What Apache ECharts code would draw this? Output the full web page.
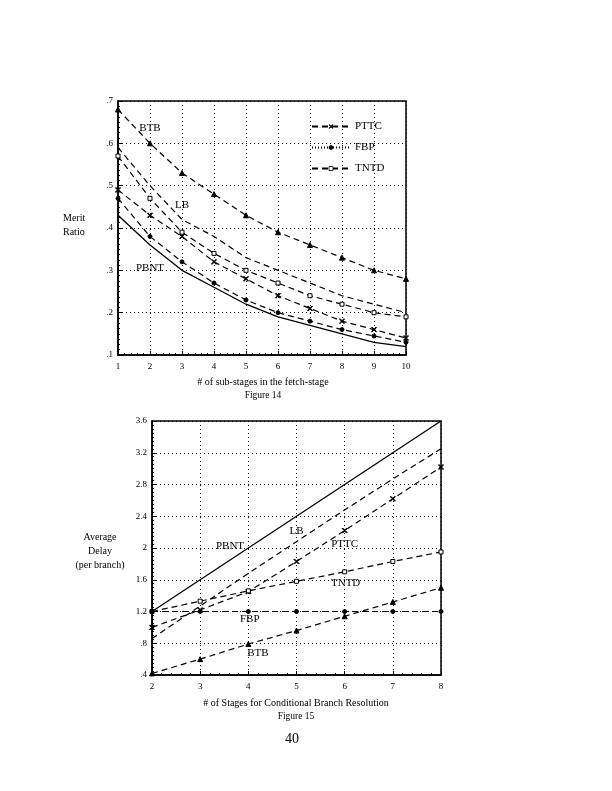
<!DOCTYPE html>
<html><head><meta charset="utf-8">
<script src="https://cdn.jsdelivr.net/npm/echarts@6/dist/echarts.min.js"></script>
<style>html,body{margin:0;background:#fff}#c{width:612px;height:791px}</style></head>
<body><div id="c"></div>
<script>
// ---- Figure 14 data ----
const x14 = [1,2,3,4,5,6,7,8,9,10];
const btb14  = [0.68,0.60,0.53,0.48,0.43,0.39,0.36,0.33,0.30,0.28];
const lb14   = [0.59,0.50,0.42,0.38,0.33,0.30,0.27,0.24,0.22,0.20];
const tntd14 = [0.57,0.47,0.39,0.34,0.30,0.27,0.24,0.22,0.20,0.19];
const pttc14 = [0.49,0.43,0.38,0.32,0.28,0.24,0.21,0.18,0.16,0.14];
const fbp14  = [0.47,0.38,0.32,0.27,0.23,0.20,0.18,0.16,0.145,0.13];
const pbnt14 = [0.43,0.36,0.30,0.26,0.22,0.19,0.17,0.15,0.13,0.12];
const yTicks14 = ['.1','.2','.3','.4','.5','.6','.7'];
// ---- Figure 15 data ----
const x15 = [2,3,4,5,6,7,8];
const pbnt15 = [1.2,1.6,2.0,2.4,2.8,3.2,3.6];
const lb15   = [0.86,1.27,1.68,2.08,2.48,2.87,3.25];
const pttc15 = [1.0,1.22,1.45,1.83,2.22,2.62,3.02];
const tntd15 = [1.2,1.33,1.46,1.58,1.70,1.83,1.95];
const fbp15  = [1.2,1.2,1.2,1.2,1.2,1.2,1.2];
const btb15  = [0.42,0.60,0.79,0.96,1.14,1.32,1.50];
const yTicks15 = ['.4','.8','1.2','1.6','2','2.4','2.8','3.2','3.6'];

const F = 'Liberation Serif';
const K = '#000';
const crossPath = 'path://M0,1L1,0L5,4L9,0L10,1L6,5L10,9L9,10L5,6L1,10L0,9L4,5Z';
const pair = (xs, ys) => xs.map((x, i) => [x, ys[i]]);

function ser(name, g, xs, ys, o) {
  o = o || {};
  const s = {
    name: name, type: 'line', xAxisIndex: g, yAxisIndex: g,
    data: pair(xs, ys), animation: false,
    symbol: o.symbol || 'none', symbolSize: o.size || 5, showSymbol: !!o.symbol,
    itemStyle: {color: o.fill === false ? '#fff' : K, borderColor: K, borderWidth: 1},
    lineStyle: {color: K, width: o.solid ? 1.3 : 1.2, type: o.solid ? 'solid' : [6, 4]},
    z: 3
  };
  if (o.label) {
    s.markPoint = {
      symbol: 'circle', symbolSize: 0, animation: false,
      label: {show: true, formatter: o.label[0], color: K, fontFamily: F, fontSize: 11},
      data: [{coord: [o.label[1], o.label[2]]}]
    };
  }
  return s;
}

function xAx(g, min, max) {
  return {
    gridIndex: g, type: 'value', min: min, max: max, interval: 1,
    axisLine: {lineStyle: {color: K, width: 1.5}},
    axisTick: {inside: true, length: 4, lineStyle: {color: K}},
    minorTick: {show: true, splitNumber: 5, length: 2, lineStyle: {color: K}},
    splitLine: {show: true, lineStyle: {color: K, type: [1, 3], width: 1}},
    axisLabel: {color: K, fontFamily: F, fontSize: 9, margin: 7}
  };
}
function yAx(g, min, max, itv, ticks) {
  return {
    gridIndex: g, type: 'value', min: min, max: max, interval: itv,
    axisLine: {lineStyle: {color: K, width: 1.5}},
    axisTick: {inside: true, length: 4, lineStyle: {color: K}},
    minorTick: {show: true, splitNumber: 8, length: 2, lineStyle: {color: K}},
    splitLine: {show: true, lineStyle: {color: K, type: [1, 3], width: 1}},
    axisLabel: {color: K, fontFamily: F, fontSize: 9, margin: 5,
      formatter: v => ticks[Math.round((v - min) / itv)]}
  };
}

function txt(x, y, t, size, align, weight) {
  return {type: 'text', x: x, y: y,
    style: {text: t, fill: K, font: (weight || 'normal') + ' ' + (size || 10) + 'px "' + F + '"',
      align: align || 'center', verticalAlign: 'middle'}};
}

const chart = echarts.init(document.getElementById('c'));
chart.setOption({
  backgroundColor: '#fff',
  animation: false,
  grid: [
    {left: 118, top: 101, width: 288, height: 254, show: true, borderColor: K, borderWidth: 1.5, backgroundColor: 'transparent'},
    {left: 152, top: 421, width: 289, height: 254, show: true, borderColor: K, borderWidth: 1.5, backgroundColor: 'transparent'}
  ],
  xAxis: [xAx(0, 1, 10), xAx(1, 2, 8)],
  yAxis: [yAx(0, 0.1, 0.7, 0.1, yTicks14), yAx(1, 0.4, 3.6, 0.4, yTicks15)],
  legend: {
    data: [
      {name: 'PTTC'},
      {name: 'FBP', lineStyle: {type: [1, 2]}},
      {name: 'TNTD'}
    ],
    orient: 'vertical', left: 306, top: 115, itemWidth: 38, itemHeight: 5, itemGap: 8,
    itemStyle: {borderWidth: 0.8},
    textStyle: {color: K, fontFamily: F, fontSize: 11, lineHeight: 13}, selectedMode: false
  },
  series: [
    ser('BTB', 0, x14, btb14, {symbol: 'triangle', size: 5, label: ['BTB', 2, 0.636]}),
    ser('LB', 0, x14, lb14, {label: ['LB', 3, 0.455]}),
    ser('TNTD', 0, x14, tntd14, {symbol: 'rect', size: 4, fill: false}),
    ser('PTTC', 0, x14, pttc14, {symbol: crossPath, size: 5}),
    ser('FBP', 0, x14, fbp14, {symbol: 'circle', size: 4}),
    ser('PBNT', 0, x14, pbnt14, {solid: true, label: ['PBNT', 2, 0.306]}),

    ser('PBNT', 1, x15, pbnt15, {solid: true, label: ['PBNT', 3.62, 2.02]}),
    ser('LB', 1, x15, lb15, {label: ['LB', 5.0, 2.21]}),
    ser('PTTC', 1, x15, pttc15, {symbol: crossPath, size: 5, label: ['PTTC', 6.0, 2.05]}),
    ser('TNTD', 1, x15, tntd15, {symbol: 'rect', size: 4, fill: false, label: ['TNTD', 6.02, 1.56]}),
    ser('FBP', 1, x15, fbp15, {symbol: 'circle', size: 4, label: ['FBP', 4.03, 1.1]}),
    ser('BTB', 1, x15, btb15, {symbol: 'triangle', size: 5, label: ['BTB', 4.2, 0.68]})
  ],
  graphic: [
    txt(63, 218, 'Merit', 10, 'left'),
    txt(63, 232, 'Ratio', 10, 'left'),
    txt(263, 382, '# of sub-stages in the fetch-stage', 10),
    txt(263, 395, 'Figure 14', 9.5),
    txt(100, 537, 'Average', 10),
    txt(100, 551, 'Delay', 10),
    txt(100, 565, '(per branch)', 10),
    txt(296, 703, '# of Stages for Conditional Branch Resolution', 10),
    txt(296, 716, 'Figure 15', 9.5),
    txt(292, 739, '40', 14)
  ]
});
</script></body></html>
